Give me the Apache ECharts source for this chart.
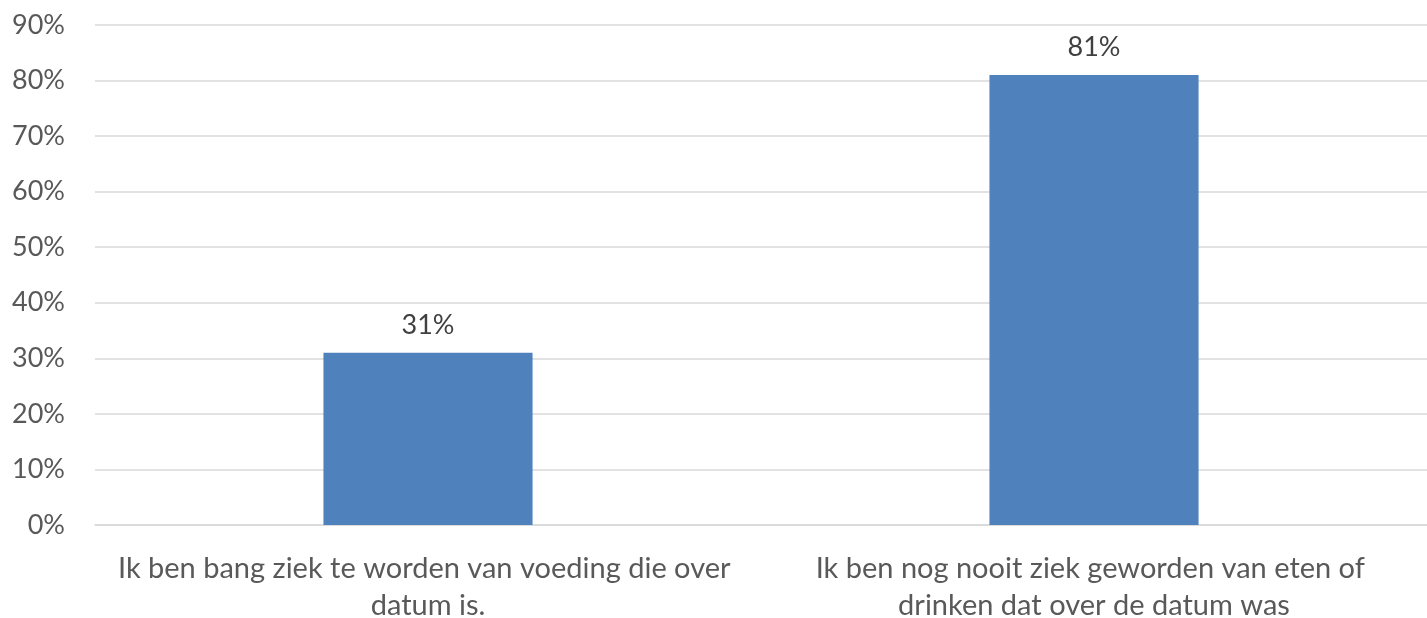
<!DOCTYPE html>
<html>
<head>
<meta charset="utf-8">
<script src="https://cdn.jsdelivr.net/npm/echarts@6/dist/echarts.min.js"></script>
<style>
html,body{margin:0;padding:0;background:#fff;}
#c{width:1427px;height:618px;}
</style>
</head>
<body>
<div id="c"></div>
<script>
const categories = [
  "Ik ben bang ziek te worden van voeding die over datum is.",
  "Ik ben nog nooit ziek geworden van eten of drinken dat over de datum was"
];
const values = [31, 81];
const yTicks = { min: 0, max: 90, interval: 10 };

const chart = echarts.init(document.getElementById('c'), null, {renderer: 'canvas'});
chart.setOption({
  animation: false,
  grid: { left: 95, right: 0, top: 25, bottom: 93, containLabel: false, outerBoundsMode: 'none' },
  xAxis: {
    type: 'category',
    data: categories,
    axisLine: { show: true, lineStyle: { color: '#d9d9d9', width: 1.5 } },
    axisTick: { show: false },
    axisLabel: {
      interval: 0,
      color: '#595959',
      fontFamily: 'Lato, "Open Sans", sans-serif',
      fontSize: 29,
      lineHeight: 37,
      margin: 25,
      width: 650,
      overflow: 'break'
    }
  },
  yAxis: {
    type: 'value',
    min: yTicks.min, max: yTicks.max, interval: yTicks.interval,
    axisLine: { show: false },
    axisTick: { show: false },
    splitLine: { lineStyle: { color: '#d9d9d9', width: 1.5 } },
    axisLabel: {
      formatter: '{value}%',
      color: '#595959',
      fontFamily: 'Lato, "Open Sans", sans-serif',
      fontSize: 27,
      margin: 30
    }
  },
  series: [{
    type: 'bar',
    data: values,
    barWidth: '31.4%',
    itemStyle: { color: '#4f81bd' },
    label: {
      show: true,
      position: 'top',
      distance: 14,
      formatter: '{c}%',
      color: '#404040',
      fontFamily: 'Lato, "Open Sans", sans-serif',
      fontSize: 27
    }
  }]
});
</script>
</body>
</html>
